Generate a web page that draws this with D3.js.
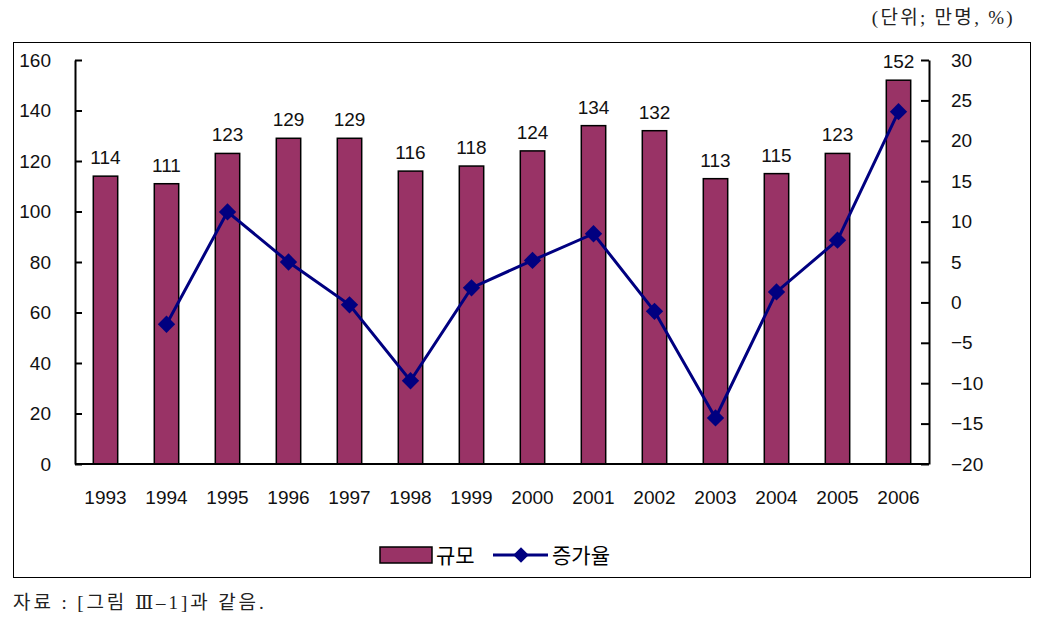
<!DOCTYPE html>
<html><head><meta charset="utf-8">
<script src="https://cdn.jsdelivr.net/npm/d3@7"></script>
<style>
body{margin:0;background:#fff;}
svg{display:block;}
</style></head>
<body><svg id="c" width="1044" height="618"></svg>
<script>
const years = ["1993","1994","1995","1996","1997","1998","1999","2000","2001","2002","2003","2004","2005","2006"];
const scale = [114,111,123,129,129,116,118,124,134,132,113,115,123,152];
const growth = [null,-2.7,11.2,5.0,-0.3,-9.7,1.8,5.2,8.5,-1.1,-14.3,1.3,7.7,23.6];
const leftTicks = [0,20,40,60,80,100,120,140,160];
const rightTicks = [-20,-15,-10,-5,0,5,10,15,20,25,30];
const seriesNames = ["규모","증가율"];
const unitLabel = "(단위; 만명, %)";
const sourceLabel = "자료 : [그림 Ⅲ–1]과 같음.";

const svg = d3.select("#c");
const L = 75, R = 929, T = 60, B = 464;
const numFont = "'Liberation Sans', Arial, sans-serif";
const korFont = "'Noto Sans CJK KR', sans-serif";
const serifFont = "'Liberation Serif','DejaVu Serif','Noto Sans CJK KR', serif";

// outer box
svg.append("rect").attr("x",13.5).attr("y",42.5).attr("width",1017).attr("height",535)
  .attr("fill","none").attr("stroke","#000").attr("stroke-width",1);

const x = d3.scaleBand().domain(years).range([L,R]).paddingInner(0.6).paddingOuter(0.3);
const yL = d3.scaleLinear().domain([0,160]).range([B,T]);
const yR = d3.scaleLinear().domain([-20,30]).range([B,T]);

// bars
svg.append("g").selectAll("rect").data(years).join("rect")
  .attr("x",d=>x(d)).attr("width",x.bandwidth())
  .attr("y",(d,i)=>yL(scale[i])).attr("height",(d,i)=>B-yL(scale[i]))
  .attr("fill","#993366").attr("stroke","#000").attr("stroke-width",1.5);

// bar labels
svg.append("g").selectAll("text").data(years).join("text")
  .attr("x",d=>x(d)+x.bandwidth()/2).attr("y",(d,i)=>yL(scale[i])-12)
  .attr("text-anchor","middle").attr("font-family",numFont).attr("font-size",19)
  .attr("fill","#111").text((d,i)=>scale[i]);

// axes
const axL = d3.axisLeft(yL).tickValues(leftTicks).tickSizeInner(-7).tickSizeOuter(0).tickPadding(24);
const gL = svg.append("g").attr("transform",`translate(${L},0)`).call(axL);
const axRt = d3.axisRight(yR).tickValues(rightTicks).tickFormat(d=>d<0?"\u2212"+Math.abs(d):d).tickSizeInner(-8).tickSizeOuter(0).tickPadding(22);
const gR = svg.append("g").attr("transform",`translate(${R},0)`).call(axRt);
const axB = d3.axisBottom(x).tickSize(0).tickPadding(27);
const gB = svg.append("g").attr("transform",`translate(0,${B})`).call(axB);
[gL,gR,gB].forEach(g=>{
  g.select(".domain").attr("stroke","#000").attr("stroke-width",2);
  g.selectAll(".tick line").attr("stroke","#000").attr("stroke-width",2);
  g.selectAll("text").attr("font-family",numFont).attr("font-size",19).attr("fill","#111");
});
gL.selectAll("text").attr("text-anchor","end");
gR.selectAll("text").attr("text-anchor","start");
gB.select(".domain").attr("d",`M${L},0H${R}`);

// line
const pts = years.map((d,i)=>({x:x(d)+x.bandwidth()/2, v:growth[i]})).filter(p=>p.v!==null);
const line = d3.line().x(p=>p.x).y(p=>yR(p.v));
svg.append("path").datum(pts).attr("d",line).attr("fill","none")
  .attr("stroke","#000080").attr("stroke-width",3);
svg.append("g").selectAll("path").data(pts).join("path")
  .attr("d",d3.symbol().type(d3.symbolSquare).size(150))
  .attr("transform",p=>`translate(${p.x},${yR(p.v)}) rotate(45)`)
  .attr("fill","#000080");

// legend
const lg = svg.append("g");
lg.append("rect").attr("x",380).attr("y",547).attr("width",52).attr("height",16)
  .attr("fill","#993366").attr("stroke","#000").attr("stroke-width",1.5);
lg.append("text").attr("x",436).attr("y",563).attr("font-family",korFont).attr("font-size",21).text(seriesNames[0]);
lg.append("line").attr("x1",493).attr("x2",548).attr("y1",555).attr("y2",555).attr("stroke","#000080").attr("stroke-width",3);
lg.append("path").attr("d",d3.symbol().type(d3.symbolSquare).size(120)).attr("transform","translate(521,555) rotate(45)").attr("fill","#000080");
lg.append("text").attr("x",552).attr("y",563).attr("font-family",korFont).attr("font-size",21).text(seriesNames[1]);

// unit label and source
svg.append("text").attr("x",1015).attr("y",24).attr("text-anchor","end")
  .attr("font-family",serifFont).attr("font-size",19).attr("letter-spacing",2.3).attr("fill","#222").text(unitLabel);
svg.append("text").attr("x",13).attr("y",609)
  .attr("font-family",serifFont).attr("font-size",19).attr("letter-spacing",2.9).attr("fill","#222").text(sourceLabel);
</script></body></html>
